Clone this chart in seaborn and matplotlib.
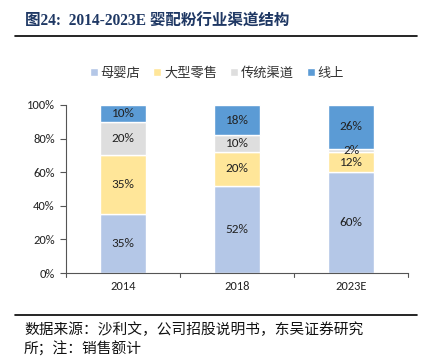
import matplotlib
matplotlib.use("Agg")
import matplotlib.pyplot as plt
import seaborn as sns
import pandas as pd
import numpy as np

years = ["2014", "2018", "2023E"]
series_names = ["母婴店", "大型零售", "传统渠道", "线上"]
muying = [35, 52, 60]
retail = [35, 20, 12]
traditional = [20, 10, 2]
online = [10, 18, 26]
colors = ["#B4C7E7", "#FFE699", "#DEDEDE", "#5B9BD5"]
yticks = [0, 20, 40, 60, 80, 100]

sns.set_theme(style="white")
plt.rcParams['font.family'] = ['Noto Sans CJK SC', 'DejaVu Sans']

num_font = ['Carlito', 'Liberation Sans', 'DejaVu Sans']

values = [muying, retail, traditional, online]
rows = []
for name, vals in zip(series_names, values):
    for y, v in zip(years, vals):
        rows.append({"year": y, "series": name, "value": v})
df = pd.DataFrame(rows)

fig = plt.figure(figsize=(4.21, 3.58), dpi=100)
ax = fig.add_axes([66/421, 1-273/358, 342/421, 168/358])

bottom = np.zeros(len(years))
for name, vals, c in zip(series_names, values, colors):
    sub = df[df.series == name]
    ax.bar(sub["year"], sub["value"], bottom=bottom, color=c, width=0.41, label=name)
    for i, v in enumerate(sub["value"].values):
        ax.text(i, bottom[i] + v / 2, f"{v}%", ha="center", va="center", fontsize=9.5, color="#222222",
                family=num_font)
    bottom += sub["value"].values

ax.set_xlim(-0.5, 2.5)
ax.set_ylim(0, 100)
ax.set_yticks(yticks)
ax.set_yticklabels([f"{t}%" for t in yticks], fontsize=9, color="#222222", family=num_font)
ax.set_xticks(range(len(years)))
ax.set_xticklabels(years, fontsize=9, color="#222222", family=num_font)
ax.tick_params(axis="x", length=0, pad=6)
ax.tick_params(axis="y", length=4, width=0.8, color="#555555", direction="out", left=True, pad=4)
for b in [-0.5, 0.5, 1.5, 2.5]:
    ax.plot([b, b], [0, -2.5], color="#555555", lw=0.8, clip_on=False)
sns.despine(ax=ax, top=True, right=True)
for s in ["left", "bottom"]:
    ax.spines[s].set_color("#555555")
    ax.spines[s].set_linewidth(0.8)
ax.set_xlabel("")
ax.set_ylabel("")

leg = ax.legend(loc="center", ncol=4, frameon=False,
                fontsize=9.5, handlelength=0.6, handleheight=0.6, handletextpad=0.2, columnspacing=1.0)
leg.set_bbox_to_anchor((217/421, 1-73/358), transform=fig.transFigure)
for t in leg.get_texts():
    t.set_color("#333333")

fig.text(25/421, 1-22/358, "图24:  2014-2023E 婴配粉行业渠道结构", fontsize=11.2, fontweight="bold",
         color="#1F3864", va="center", ha="left", family=['Liberation Serif', 'Noto Sans CJK SC'])
fig.add_artist(plt.Line2D([15/421, 417/421], [1-36/358, 1-36/358], color="black", lw=1.2))
fig.add_artist(plt.Line2D([15/421, 417/421], [1-315/358, 1-315/358], color="black", lw=1.2))
fig.text(24/421, 1-330/358, "数据来源：沙利文，公司招股说明书，东吴证券研究", fontsize=10.6, color="#111111",
         va="center", ha="left")
fig.text(24/421, 1-349/358, "所；注：销售额计", fontsize=10.6, color="#111111", va="center", ha="left")

fig.savefig("out.png", dpi=100)
